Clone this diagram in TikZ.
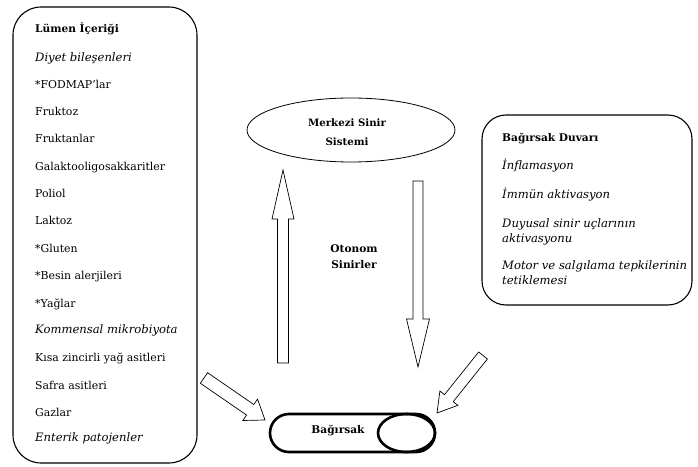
\documentclass[tikz,border=0pt]{standalone}
\usepackage{fontspec}
\setmainfont{DejaVu Serif}
\usetikzlibrary{calc,shapes.geometric}
\tikzset{
  panel/.style={draw=black, line width=1.1pt, rounded corners=28pt},
  item/.style={anchor=base west, inner sep=0pt, font=\fontsize{10.9}{13}\selectfont},
  itemi/.style={item, font=\fontsize{11.6}{13}\selectfont\itshape},
  itemb/.style={item, font=\fontsize{10.6}{13}\selectfont\bfseries},
  blockarrow/.style={draw=black, line width=0.7pt, fill=white, line join=miter},
  ctext/.style={align=center, font=\fontsize{10.6}{16}\selectfont\bfseries, inner sep=0pt}
}
\newcommand\BlkArrow[5]{%
  \coordinate (hb) at ($(#2)!#5!(#1)$);
  \draw[blockarrow] ($(#1)!#3!90:(#2)$) -- ($(hb)!#3!-90:(#1)$) -- ($(hb)!#4!-90:(#1)$) -- (#2)
    -- ($(hb)!#4!90:(#1)$) -- ($(hb)!#3!90:(#1)$) -- ($(#1)!#3!-90:(#2)$) -- cycle;
}
\begin{document}
\begin{tikzpicture}[x=1pt,y=1pt]
\useasboundingbox (0,0) rectangle (698,466);
% left panel
\draw[panel] (13,3) rectangle (197,459);
\node[itemb] (l1) at (35,433) {Lümen İçeriği};
\node[itemi] (l2) at (35,404.5) {Diyet bileşenleri};
\node[item] (l3) at (35,377) {*FODMAP'lar};
\node[item] (l4) at (35,350) {Fruktoz};
\node[item] (l5) at (35,323) {Fruktanlar};
\node[item] (l6) at (35,295) {Galaktooligosakkaritler};
\node[item] (l7) at (35,268) {Poliol};
\node[item] (l8) at (35,241) {Laktoz};
\node[item] (l9) at (35,213.5) {*Gluten};
\node[item] (l10) at (35,186) {*Besin alerjileri};
\node[item] (l11) at (35,158.5) {*Yağlar};
\node[itemi] (l12) at (35,132) {Kommensal mikrobiyota};
\node[item] (l13) at (35,104.5) {Kısa zincirli yağ asitleri};
\node[item] (l14) at (35,77) {Safra asitleri};
\node[item] (l15) at (35,49.5) {Gazlar};
\node[itemi] (l16) at (35,24.5) {Enterik patojenler};
% right panel
\draw[panel, rounded corners=24pt] (482,161) rectangle (692,351);
\node[itemb] (r1) at (502,324.5) {Bağırsak Duvarı};
\node[itemi] (r2) at (502,296) {İnflamasyon};
\node[itemi] (r3) at (502,267) {İmmün aktivasyon};
\node[itemi] (r4) at (502,238) {Duyusal sinir uçlarının};
\node[itemi] (r5) at (502,223.5) {aktivasyonu};
\node[itemi] (r6) at (502,196) {Motor ve salgılama tepkilerinin};
\node[itemi] (r7) at (502,181) {tetiklemesi};
% CNS ellipse
\node[draw=black, line width=0.8pt, ellipse, minimum width=208pt, minimum height=64pt, inner sep=0pt] (cns) at (351,336) {};
\node[ctext, font=\fontsize{10.2}{19}\selectfont\bfseries] (cnst) at (347,334) {Merkezi Sinir\\Sistemi};
\node[ctext] (ans) at (354,209) {Otonom\\Sinirler};
% gut
\draw[line width=2.6pt, rounded corners=19pt] (270,14) rectangle (435,52);
\node[draw=black, line width=2.6pt, ellipse, minimum width=57pt, minimum height=38pt, inner sep=0pt] (gutend) at (406.5,33) {};
\node[ctext] (gut) at (338,35) {Bağırsak};
% arrows
\coordinate (upA) at (283,103);
\coordinate (upB) at (283,296);
\coordinate (dnA) at (418,285);
\coordinate (dnB) at (418,99);
\coordinate (lA) at (204,88);
\coordinate (lB) at (265,46);
\coordinate (rA) at (483,110.5);
\coordinate (rB) at (437,53);
\BlkArrow{upA}{upB}{5.5pt}{11pt}{49pt}
\BlkArrow{dnA}{dnB}{5pt}{11.5pt}{48pt}
\BlkArrow{lA}{lB}{6.4pt}{13pt}{18pt}
\BlkArrow{rA}{rB}{5.6pt}{11.5pt}{19pt}
\end{tikzpicture}
\end{document}
